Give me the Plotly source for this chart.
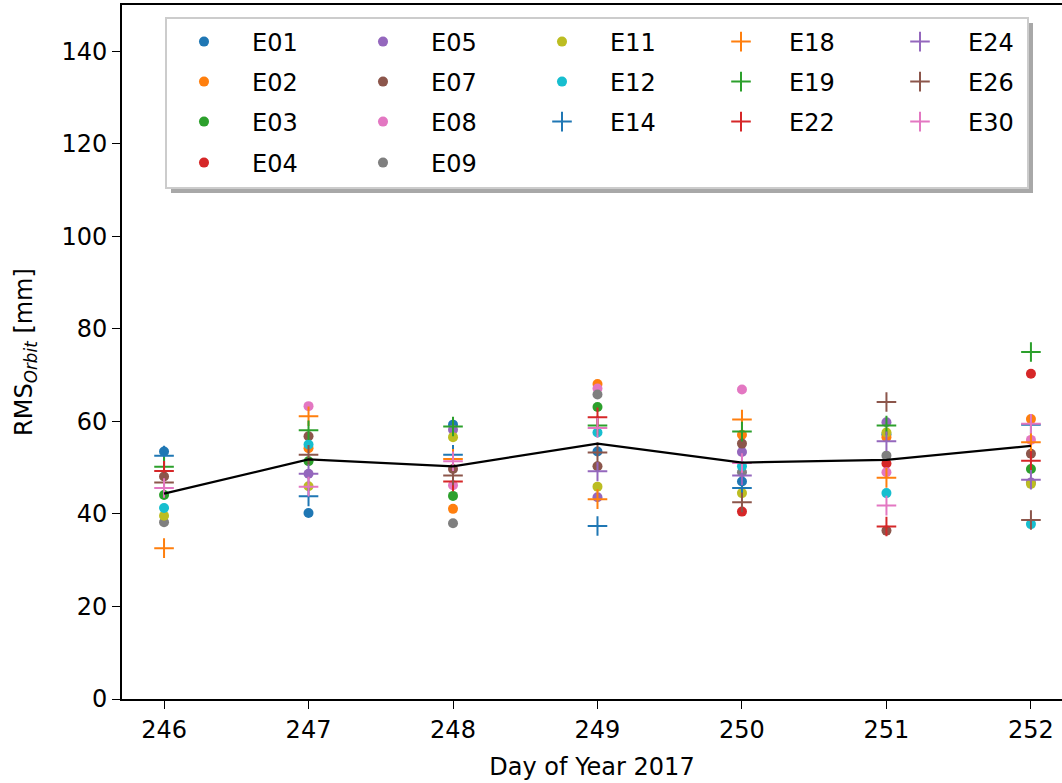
import plotly.graph_objects as go

days = [246, 247, 248, 249, 250, 251, 252]

E01 = [53.5, 40.2, 59.3, 53.5, 47.0, 57.2, None]
E02 = [None, 54.2, 41.1, 68.1, 57.1, 56.6, 60.5]
E03 = [44.1, 51.4, 43.9, 63.1, None, None, 49.7]
E04 = [None, None, None, None, 40.5, 50.9, 70.3]
E05 = [None, 48.7, 58.2, 43.6, 53.4, 59.8, 46.8]
E07 = [48.1, 56.8, 49.7, 50.3, 55.2, 36.4, 53.0]
E08 = [None, 63.3, 46.2, 67.1, 66.9, 49.0, 56.0]
E09 = [38.2, None, 38.0, 65.8, 49.0, 52.6, None]
E11 = [39.6, 46.0, 56.6, 45.9, 44.5, 57.6, 46.5]
E12 = [41.3, 55.0, None, 57.6, 50.3, 44.5, 37.8]
E14 = [52.6, 43.8, 52.8, 37.4, 45.6, None, 59.3]
E18 = [32.6, 61.1, 51.9, 43.2, 60.4, 47.8, 55.5]
E19 = [50.2, 58.1, 58.9, 59.1, 57.8, 59.1, 75.0]
E22 = [49.3, None, 47.0, 60.9, None, 37.3, 51.5]
E24 = [None, 48.7, None, 49.2, 48.3, 55.7, 47.4]
E26 = [46.8, 52.8, 48.3, 53.3, 42.5, 64.2, 38.7]
E30 = [45.6, 45.9, 51.4, 58.6, 51.0, 41.8, 59.5]

mean_rms = [44.4, 51.8, 50.3, 55.2, 51.1, 51.7, 54.7]

y_ticks = [0, 20, 40, 60, 80, 100, 120, 140]

series = [
    ("E01", E01, "#1f77b4", "circle"),
    ("E02", E02, "#ff7f0e", "circle"),
    ("E03", E03, "#2ca02c", "circle"),
    ("E04", E04, "#d62728", "circle"),
    ("E05", E05, "#9467bd", "circle"),
    ("E07", E07, "#8c564b", "circle"),
    ("E08", E08, "#e377c2", "circle"),
    ("E09", E09, "#7f7f7f", "circle"),
    ("E11", E11, "#bcbd22", "circle"),
    ("E12", E12, "#17becf", "circle"),
    ("E14", E14, "#1f77b4", "cross-thin"),
    ("E18", E18, "#ff7f0e", "cross-thin"),
    ("E19", E19, "#2ca02c", "cross-thin"),
    ("E22", E22, "#d62728", "cross-thin"),
    ("E24", E24, "#9467bd", "cross-thin"),
    ("E26", E26, "#8c564b", "cross-thin"),
    ("E30", E30, "#e377c2", "cross-thin"),
]

# legend rows (matplotlib column-major layout with 5 columns)
row_of = {}
cols = [["E01", "E02", "E03", "E04"], ["E05", "E07", "E08", "E09"],
        ["E11", "E12", "E14"], ["E18", "E19", "E22"], ["E24", "E26", "E30"]]
for col in cols:
    for r, name in enumerate(col):
        row_of[name] = r
legend_ids = ["legend", "legend2", "legend3", "legend4"]

FONT = "DejaVu Sans"
fig = go.Figure()

order = {name: i for i, (name, *_rest) in enumerate(series)}
for name, vals, color, sym in series:
    if sym == "circle":
        marker = dict(symbol="circle", size=10, color=color, line=dict(width=0))
    else:
        marker = dict(symbol="cross-thin", size=14, color=color,
                      line=dict(width=2, color=color))
    fig.add_trace(go.Scatter(
        x=days, y=vals, mode="markers", name=name, marker=marker,
        legend=legend_ids[row_of[name]],
        legendrank=order[name] + 1,
    ))

fig.add_trace(go.Scatter(
    x=days, y=mean_rms, mode="lines", line=dict(color="black", width=2.2),
    showlegend=False,
))

W, H = 1062, 783
L, R, T, B = 122, 0, 5, 84
pw, ph = W - L - R, H - T - B


def px_x(p):
    return (p - L) / pw


def px_y(p):
    return (H - B - p) / ph


row_centers = [42, 82, 122, 163]
itemwidth = 86
entrywidth = 78
first_symbol_px = 204
x_leg = px_x(first_symbol_px - (5 + itemwidth / 2))

legend_common = dict(
    orientation="h", bgcolor="rgba(0,0,0,0)", borderwidth=0,
    font=dict(family=FONT, size=24, color="black"),
    itemwidth=itemwidth, entrywidth=entrywidth, entrywidthmode="pixels",
    xanchor="left", yanchor="middle", x=x_leg, traceorder="normal",
    itemclick=False, itemdoubleclick=False,
)
layout_legends = {}
for i, lid in enumerate(legend_ids):
    layout_legends[lid] = dict(legend_common, y=px_y(row_centers[i]))

shapes = [
    dict(type="rect", xref="paper", yref="paper",
         x0=px_x(171), x1=px_x(1033), y0=px_y(193), y1=px_y(23),
         fillcolor="#a8a8a8", line=dict(width=0), layer="above"),
    dict(type="rect", xref="paper", yref="paper",
         x0=px_x(166), x1=px_x(1028), y0=px_y(188), y1=px_y(18),
         fillcolor="white", line=dict(color="#cccccc", width=2), layer="above"),
]

fig.update_layout(
    width=W, height=H,
    margin=dict(l=L, r=R, t=T, b=B, autoexpand=False),
    paper_bgcolor="white", plot_bgcolor="white",
    font=dict(family=FONT, size=24, color="black"),
    shapes=shapes,
    xaxis=dict(
        range=[245.709, 252.215], tickmode="array", tickvals=days,
        ticktext=[str(d) for d in days],
        showgrid=False, zeroline=False, showline=True, linecolor="black",
        linewidth=1.6, mirror=True, ticks="outside", ticklen=8, tickwidth=1.3,
        tickcolor="black", tickfont=dict(family=FONT, size=24),
        title=dict(text="Day of Year 2017", font=dict(family=FONT, size=24),
                   standoff=16),
        automargin=False,
    ),
    yaxis=dict(
        range=[0, 150], tickmode="array", tickvals=y_ticks,
        ticktext=[str(v) for v in y_ticks],
        showgrid=False, zeroline=False, showline=True, linecolor="black",
        linewidth=1.6, mirror=False, ticks="outside", ticklen=8, tickwidth=1.3,
        tickcolor="black", tickfont=dict(family=FONT, size=24),
        title=dict(text="RMS<sub><i>Orbit</i></sub> [mm]",
                   font=dict(family=FONT, size=24), standoff=22),
        automargin=False,
    ),
    showlegend=True,
    **layout_legends,
)

fig.write_html("out.html",
               config={"displayModeBar": False},
               post_script="document.body.style.margin='0px';"
                           "document.body.style.overflow='hidden';")
